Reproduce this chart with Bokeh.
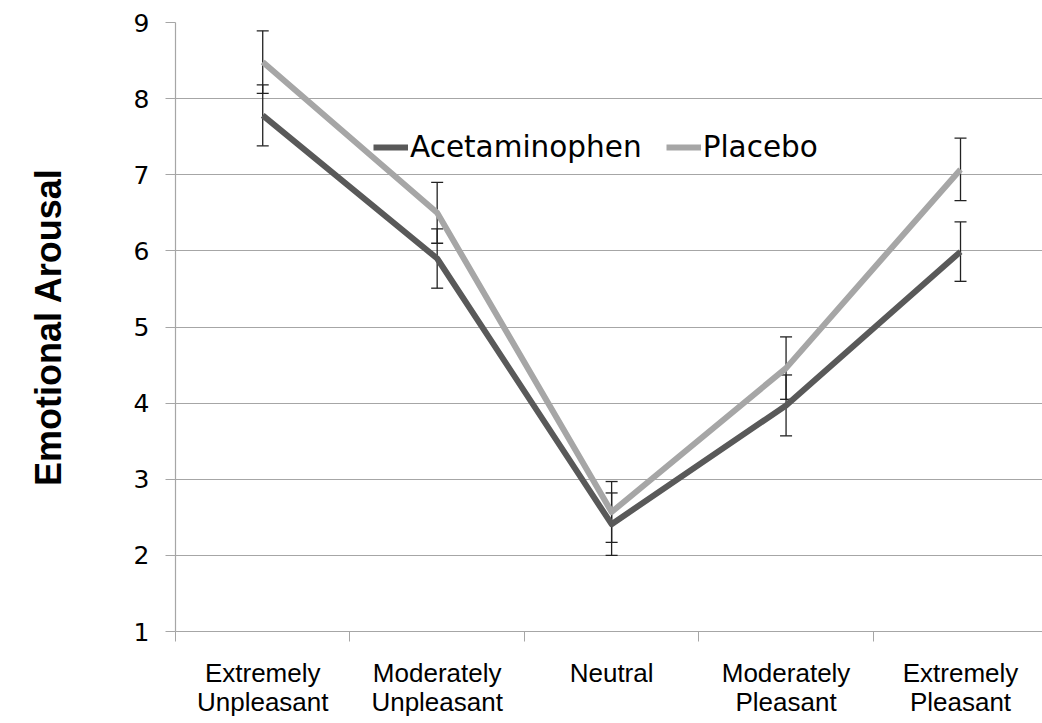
from bokeh.plotting import figure
from bokeh.models import (Range1d, FixedTicker, Whisker, TeeHead, ColumnDataSource,
                          Legend, LegendItem, LinearAxis)
from bokeh.embed import file_html
from bokeh.resources import INLINE

categories_line1 = ["Extremely", "Moderately", "Neutral", "Moderately", "Extremely"]
categories_line2 = ["Unpleasant", "Unpleasant", "", "Pleasant", "Pleasant"]
acetaminophen = [7.78, 5.90, 2.41, 3.97, 5.99]
acet_err = [0.40, 0.39, 0.41, 0.40, 0.39]
placebo = [8.48, 6.50, 2.57, 4.46, 7.07]
placebo_err = [0.41, 0.40, 0.40, 0.41, 0.41]
y_ticks = [1, 2, 3, 4, 5, 6, 7, 8, 9]

xs = [i + 0.5 for i in range(len(categories_line1))]
bounds = [i for i in range(len(categories_line1) + 1)]

p = figure(width=1042, height=723, output_backend="svg", toolbar_location=None,
           x_range=Range1d(0, 4.97), y_range=Range1d(1, 9),
           min_border_left=175, min_border_right=0, min_border_top=22,
           min_border_bottom=92)
p.outline_line_color = None
p.background_fill_color = "white"

# grid
p.xgrid.grid_line_color = None
p.ygrid.grid_line_color = "#A6A6A6"
p.ygrid.grid_line_width = 1.2

# x axis (first label line + boundary ticks)
p.xaxis.ticker = FixedTicker(ticks=xs, minor_ticks=bounds)
p.xaxis.major_label_overrides = {x: c for x, c in zip(xs, categories_line1)}
p.xaxis.major_tick_line_color = None
p.xaxis.major_tick_out = 0
p.xaxis.major_tick_in = 0
p.xaxis.minor_tick_out = 10
p.xaxis.minor_tick_in = 0
p.xaxis.minor_tick_line_color = "#A6A6A6"
p.xaxis.axis_line_color = "#A6A6A6"
p.xaxis.axis_line_width = 1.2
p.xaxis.major_label_text_font = "Liberation Sans"
p.xaxis.major_label_text_font_size = "26px"
p.xaxis.major_label_text_color = "black"
p.xaxis.major_label_standoff = 16

# second label line
ax2 = LinearAxis(ticker=FixedTicker(ticks=xs),
                 major_label_overrides={x: c for x, c in zip(xs, categories_line2)})
ax2.axis_line_color = None
ax2.major_tick_line_color = None
ax2.minor_tick_line_color = None
ax2.major_tick_out = 0
ax2.major_tick_in = 0
ax2.major_label_text_font = "Liberation Sans"
ax2.major_label_text_font_size = "26px"
ax2.major_label_text_color = "black"
ax2.major_label_standoff = -4
p.add_layout(ax2, "below")

# y axis
p.yaxis.ticker = FixedTicker(ticks=y_ticks)
p.yaxis.minor_tick_line_color = None
p.yaxis.major_tick_out = 10
p.yaxis.major_tick_in = 0
p.yaxis.major_tick_line_color = "#A6A6A6"
p.yaxis.axis_line_color = "#A6A6A6"
p.yaxis.axis_line_width = 1.2
p.yaxis.major_label_text_font = "DejaVu Sans"
p.yaxis.major_label_text_font_size = "25px"
p.yaxis.major_label_text_color = "black"
p.yaxis.major_label_standoff = 16
p.yaxis.axis_label = "Emotional Arousal"
p.yaxis.axis_label_text_font = "Liberation Sans"
p.yaxis.axis_label_text_font_style = "bold"
p.yaxis.axis_label_text_font_size = "36px"
p.yaxis.axis_label_text_color = "black"
p.yaxis.axis_label_standoff = 62

src_a = ColumnDataSource(dict(x=xs, y=acetaminophen,
                              lo=[v - e for v, e in zip(acetaminophen, acet_err)],
                              hi=[v + e for v, e in zip(acetaminophen, acet_err)]))
src_p = ColumnDataSource(dict(x=xs, y=placebo,
                              lo=[v - e for v, e in zip(placebo, placebo_err)],
                              hi=[v + e for v, e in zip(placebo, placebo_err)]))

la = p.line("x", "y", source=src_a, line_color="#595959", line_width=6, line_join="round")
lp = p.line("x", "y", source=src_p, line_color="#A6A6A6", line_width=6, line_join="round")

for src in (src_a, src_p):
    w = Whisker(base="x", upper="hi", lower="lo", source=src,
                line_color="#222222", line_width=1.3,
                upper_head=TeeHead(size=12, line_color="#222222", line_width=1.3),
                lower_head=TeeHead(size=12, line_color="#222222", line_width=1.3))
    p.add_layout(w)

legend = Legend(items=[LegendItem(label="Acetaminophen", renderers=[la]),
                       LegendItem(label="Placebo", renderers=[lp])],
                orientation="horizontal", location=(198, 467))
legend.border_line_color = None
legend.background_fill_alpha = 0
legend.padding = 0
legend.margin = 0
legend.spacing = 24
legend.glyph_width = 35
legend.glyph_height = 30
legend.label_height = 30
legend.label_standoff = 2
legend.label_text_font = "DejaVu Sans"
legend.label_text_font_size = "29.5px"
legend.label_text_color = "black"
p.add_layout(legend, "center")

open("out.html", "w").write(file_html(p, INLINE))
